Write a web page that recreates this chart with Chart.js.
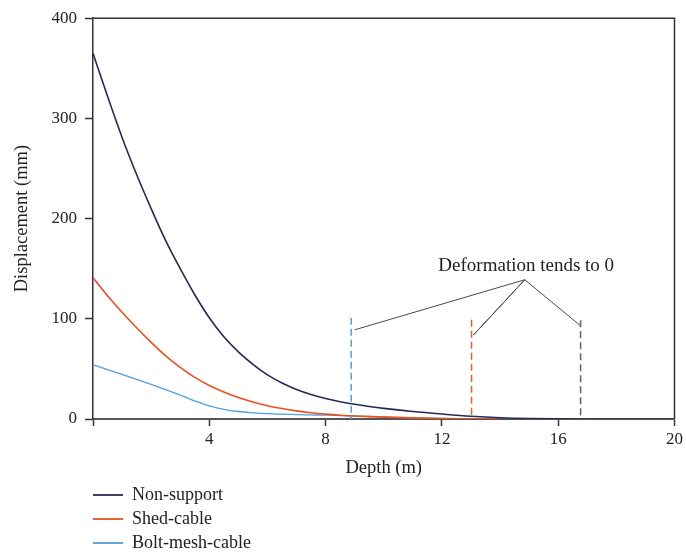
<!DOCTYPE html>
<html>
<head>
<meta charset="utf-8">
<script src="https://cdn.jsdelivr.net/npm/chart.js@4.4.0/dist/chart.umd.min.js"></script>
<style>
  html, body { margin: 0; padding: 0; background: #fff; }
  canvas { display: block; }
</style>
</head>
<body>
<canvas id="chart" width="686" height="557"></canvas>
<script>
//canvas element
const ctx = document.getElementById('chart').getContext('2d');

/**
 * Graph-data (depth in m, displacement in mm)
 */
const depth = [0, 0.5, 1, 1.5, 2, 2.5, 3, 3.5, 4, 4.5, 5, 5.5, 6, 6.5, 7, 7.5, 8, 8.5, 9, 9.5, 10,
               11, 12, 13, 14, 15, 16, 17, 18, 19, 20];
const nonSupport = [365, 322, 281, 244, 210, 178, 150, 124, 101, 82, 67, 54.5, 44, 36, 29.5, 24.5, 20.5, 17.3, 14.7, 12.5, 10.6,
                    7.5, 5, 2.8, 1.3, 0.5, 0.15, 0, 0, 0, 0];
const shedCable = [141, 123, 106.5, 91, 76.5, 63, 51.5, 41.5, 33.5, 27, 21.5, 17, 13.3, 10.4, 8.1, 6.3, 4.9, 3.8, 3, 2.4, 1.9,
                   1.1, 0.5, 0.2, 0, 0, 0, 0, 0, 0, 0];
const boltMeshCable = [54, 49.3, 44.5, 39.6, 34.5, 29.3, 23.8, 18, 13, 9.7, 7.5, 6.2, 5.3, 4.8, 4.4, 4.1, 3.8, 3.4, 3, 2.5, 2,
                       1.1, 0.5, 0.1, 0, 0, 0, 0, 0, 0, 0];
const seriesNames = ["Non-support", "Shed-cable", "Bolt-mesh-cable"];

// depth where deformation tends to 0 (bolt-mesh-cable, shed-cable, non-support)
const zeroDepth = [8.88, 13.02, 16.77];
const zeroMarkTop = [101, 99, 98.5];

// leader lines of the note
const noteText = "Deformation tends to 0";
const noteAt = [14.9, 153];
const leaderDepth = [9.0, 14.85, 13.09, 14.85, 16.77];
const leaderValue = [89, 139, 84, 139, 93];

const xTicks = [0, 4, 8, 12, 16, 20];
const yTicks = [0, 100, 200, 300, 400];

/**
 * Styles
 */
const serif = "'Liberation Serif', 'Times New Roman', serif";
const seriesColors = ['#232a58', '#f04f1d', '#4f9fd8'];
const markColors = ['#4fa1d6', '#e4602f', '#5b607c'];

function pts(xs, ys) {
    return xs.map((x, i) => ({x: x, y: ys[i]}));
}

var datasets = [
    {label: seriesNames[0], data: pts(depth, nonSupport), borderColor: seriesColors[0], borderWidth: 1.6},
    {label: seriesNames[1], data: pts(depth, shedCable), borderColor: seriesColors[1], borderWidth: 1.6},
    {label: seriesNames[2], data: pts(depth, boltMeshCable), borderColor: seriesColors[2], borderWidth: 1.3},
];
datasets.forEach(d => { d.cubicInterpolationMode = 'monotone'; d.pointRadius = 0; d.fill = false; });

// dashed vertical marks (drawn top -> bottom so the dash starts at the top)
zeroDepth.forEach((d, i) => {
    datasets.push({
        label: '', data: [{x: d, y: zeroMarkTop[i]}, {x: d, y: 0}],
        borderColor: markColors[i], borderWidth: 1.5, borderDash: [7, 4],
        pointRadius: 0, tension: 0, fill: false
    });
});

// leader lines
datasets.push({
    label: '', data: pts(leaderDepth, leaderValue),
    borderColor: '#4a4a4a', borderWidth: 1, pointRadius: 0, tension: 0, fill: false
});

/**
 * Plugin: frame, note text and the vertical legend under the chart
 */
const extras = {
    id: 'extras',
    afterDraw(chart) {
        const c = chart.ctx;
        const a = chart.chartArea;
        const xs = chart.scales.x, ys = chart.scales.y;
        c.save();
        //top + right frame
        c.strokeStyle = '#333';
        c.lineWidth = 1.5;
        c.beginPath();
        c.moveTo(a.left, a.top);
        c.lineTo(a.right, a.top);
        c.lineTo(a.right, a.bottom);
        c.stroke();

        //note
        c.font = '19px ' + serif;
        c.fillStyle = '#222';
        c.textAlign = 'center';
        c.textBaseline = 'middle';
        c.fillText(noteText, xs.getPixelForValue(noteAt[0]), ys.getPixelForValue(noteAt[1]));

        //legend
        c.font = '18px ' + serif;
        c.textAlign = 'left';
        for (var i = 0; i < 3; i++) {
            var y = 495 + i * 24;
            c.strokeStyle = seriesColors[i];
            c.lineWidth = 1.8;
            c.beginPath();
            c.moveTo(93, y);
            c.lineTo(123, y);
            c.stroke();
            c.fillText(seriesNames[i], 132, y);
        }
        c.restore();
    }
};

new Chart(ctx, {
    type: 'line',
    data: {datasets: datasets},
    plugins: [extras],
    options: {
        responsive: false,
        animation: false,
        devicePixelRatio: 1,
        layout: {padding: {left: 0, top: 18, right: 9, bottom: 78}},
        plugins: {legend: {display: false}, tooltip: {enabled: false}},
        scales: {
            x: {
                type: 'linear', min: 0, max: 20,
                afterFit: s => { s.height = 60; },
                afterBuildTicks: s => { s.ticks = xTicks.map(v => ({value: v})); },
                ticks: {
                    color: '#222', padding: 3, maxRotation: 0,
                    font: {family: serif, size: 17},
                    callback: v => v === 0 ? '' : v
                },
                grid: {drawOnChartArea: false, tickLength: 7, tickColor: '#333', tickWidth: 1.5},
                border: {color: '#555', width: 2},
                title: {display: true, text: 'Depth (m)', color: '#222', font: {family: serif, size: 18.5}, padding: {top: 0, bottom: 0}}
            },
            y: {
                min: 0, max: 400,
                afterFit: s => { s.width = 93; },
                afterBuildTicks: s => { s.ticks = yTicks.map(v => ({value: v})); },
                ticks: {color: '#222', padding: 8, font: {family: serif, size: 17}},
                grid: {drawOnChartArea: false, tickLength: 8, tickColor: '#333', tickWidth: 1.5},
                border: {color: '#333', width: 1.5},
                title: {display: true, text: 'Displacement (mm)', color: '#222', font: {family: serif, size: 18.5}, padding: {top: 11, bottom: 0}}
            }
        }
    }
});
</script>
</body>
</html>
